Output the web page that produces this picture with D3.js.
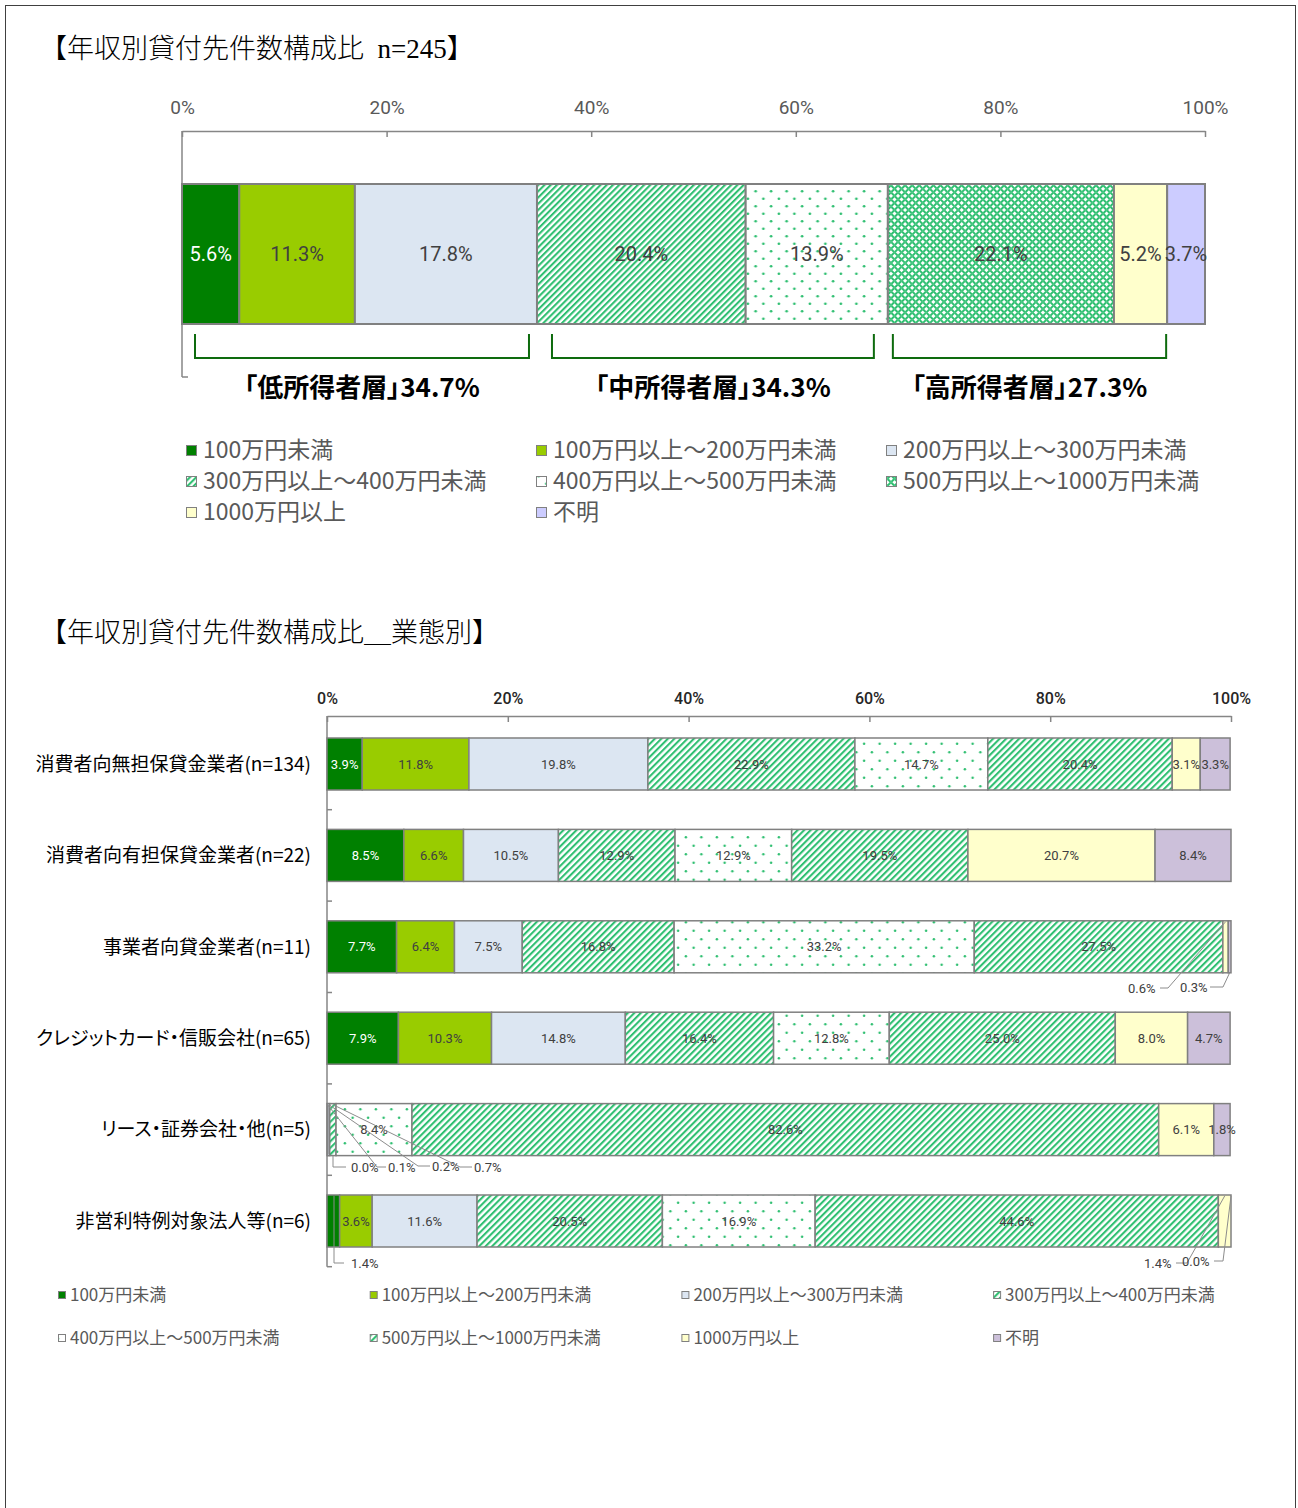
<!DOCTYPE html>
<html><head><meta charset="utf-8">
<script src="https://cdn.jsdelivr.net/npm/d3@7"></script>
<style>body{margin:0;background:#fff}svg{display:block}.palt{font-feature-settings:"palt"}</style>
</head><body><svg id="c" width="1298" height="1508"></svg>
<script>
// ---------------- DATA ----------------
const categories = ["100万円未満","100万円以上～200万円未満","200万円以上～300万円未満","300万円以上～400万円未満","400万円以上～500万円未満","500万円以上～1000万円未満","1000万円以上","不明"];
const overallValues = [5.6, 11.3, 17.8, 20.4, 13.9, 22.1, 5.2, 3.7];
const groupLabels = ["「低所得者層」34.7%","「中所得者層」34.3%","「高所得者層」27.3%"];
const groupRanges = [[0,2],[3,4],[5,6]];
const businessTypes = ["消費者向無担保貸金業者(n=134)","消費者向有担保貸金業者(n=22)","事業者向貸金業者(n=11)","クレジットカード・信販会社(n=65)","リース・証券会社・他(n=5)","非営利特例対象法人等(n=6)"];
const rowUnsecured   = [3.9, 11.8, 19.8, 22.9, 14.7, 20.4, 3.1, 3.3];
const rowSecured     = [8.5, 6.6, 10.5, 12.9, 12.9, 19.5, 20.7, 8.4];
const rowBusiness    = [7.7, 6.4, 7.5, 16.8, 33.2, 27.5, 0.6, 0.3];
const rowCredit      = [7.9, 10.3, 14.8, 16.4, 12.8, 25.0, 8.0, 4.7];
const rowLease       = [0.0, 0.1, 0.2, 0.7, 8.4, 82.6, 6.1, 1.8];
const rowNonProfit   = [1.4, 3.6, 11.6, 20.5, 16.9, 44.6, 1.4, 0.0];
const byTypeValues = [rowUnsecured, rowSecured, rowBusiness, rowCredit, rowLease, rowNonProfit];
const tickValues = [0, 20, 40, 60, 80, 100];
const topTitle = "【年収別貸付先件数構成比  n=245】";
const bottomTitle = "【年収別貸付先件数構成比＿業態別】";

// ---------------- STYLE / LAYOUT ----------------
const PG = "#2FBF71";
const topFills = ["#008000","#99CC00","#DCE6F2","url(#stripeT)","url(#dotT)","url(#crossT)","#FFFFCC","#CCCCFF"];
const botFills = ["#008000","#99CC00","#DCE6F2","url(#stripeB)","url(#dotB)","url(#stripeB)","#FFFFCC","#CCC0DA"];
const NUM = "Roboto, 'Liberation Sans', sans-serif";
const JP = "'Noto Sans CJK JP', 'Noto Sans', sans-serif";
const bracketInsets = [[13,8],[15,14],[5,1]];
const leaderLayout = [
  {row:2, s:6, tx:1128, ty:988, anchor:"start", hx:1160, ex:1168, edge:"top"},
  {row:2, s:7, tx:1180, ty:987, anchor:"start", hx:1210, ex:1223, edge:"bottom"},
  {row:4, s:0, tx:351, ty:1167, anchor:"start", hx:346, ex:333, edge:"bottom", vertical:true},
  {row:4, s:1, tx:388, ty:1167, anchor:"start", hx:386, ex:377, edge:"top"},
  {row:4, s:2, tx:432, ty:1166, anchor:"start", hx:430, ex:418, edge:"top"},
  {row:4, s:3, tx:474, ty:1167, anchor:"start", hx:472, ex:460, edge:"top"},
  {row:5, s:0, tx:351, ty:1263, anchor:"start", hx:344, ex:334, edge:"top", vertical:true},
  {row:5, s:6, tx:1144, ty:1263, anchor:"start", hx:1176, ex:1187, edge:"top"},
  {row:5, s:7, tx:1182, ty:1261, anchor:"start", hx:1214, ex:1223, edge:"top"}
];

const svg = d3.select("#c");
svg.append("rect").attr("x",5.5).attr("y",5.5).attr("width",1290).attr("height",1530)
  .attr("fill","none").attr("stroke","#404040").attr("stroke-width",1);

// ---------------- PATTERNS ----------------
const defs = svg.append("defs");
function stripe(id, size, lw){
  const p = defs.append("pattern").attr("id",id).attr("patternUnits","userSpaceOnUse")
    .attr("width",size).attr("height",size).attr("patternTransform","rotate(45)");
  p.append("rect").attr("width",size).attr("height",size).attr("fill","#fff");
  p.append("rect").attr("width",lw).attr("height",size).attr("fill",PG);
}
function dots(id, w, h, r){
  const p = defs.append("pattern").attr("id",id).attr("patternUnits","userSpaceOnUse")
    .attr("width",w).attr("height",h);
  p.append("rect").attr("width",w).attr("height",h).attr("fill","#fff");
  p.append("circle").attr("cx",w*0.25).attr("cy",h*0.25).attr("r",r).attr("fill",PG);
  p.append("circle").attr("cx",w*0.75).attr("cy",h*0.75).attr("r",r).attr("fill",PG);
}
stripe("stripeT", 4.4, 2.1);
stripe("stripeB", 4.6, 2.1);
dots("dotT", 15.5, 15, 1.35);
dots("dotB", 15.5, 17, 1.25);
(function(){
  const s = 5;
  const p = defs.append("pattern").attr("id","crossT").attr("patternUnits","userSpaceOnUse")
    .attr("width",s).attr("height",s).attr("patternTransform","rotate(45)");
  p.append("rect").attr("width",s).attr("height",s).attr("fill","#fff");
  p.append("rect").attr("width",s).attr("height",2).attr("fill",PG);
  p.append("rect").attr("width",2).attr("height",s).attr("fill",PG);
  p.append("rect").attr("x",0.6).attr("y",0.6).attr("width",0.8).attr("height",0.8).attr("fill","#fff");
})();

const stackGen = d3.stack().keys(d3.range(categories.length)).value((d,k)=>d[k]);
const fmt = v => v.toFixed(1) + "%";
const TITLE_FONT = "'Liberation Serif', 'Noto Sans CJK JP', serif";

// ---------------- TOP CHART ----------------
svg.append("text").attr("x",40).attr("y",58).text(topTitle)
  .attr("font-family",TITLE_FONT).attr("font-weight",300)
  .attr("font-size",27).attr("fill","#000").style("white-space","pre");

const x1 = d3.scaleLinear().domain([0,100]).range([182,1205]);
const axTop = svg.append("g").attr("transform","translate(0,131)")
  .call(d3.axisTop(x1).tickValues(tickValues).tickFormat(d=>d+"%").tickSize(-6).tickSizeOuter(0).tickPadding(17));
axTop.select(".domain").attr("stroke","#868686").attr("stroke-width",1.5);
axTop.selectAll(".tick line").attr("stroke","#868686").attr("stroke-width",1.5);
axTop.selectAll(".tick text").attr("font-family",NUM).attr("font-size",19).attr("fill","#595959");
svg.append("line").attr("x1",182).attr("x2",182).attr("y1",131).attr("y2",377).attr("stroke","#868686").attr("stroke-width",1.5);
svg.append("line").attr("x1",182).attr("x2",188).attr("y1",377).attr("y2",377).attr("stroke","#868686").attr("stroke-width",1.5);

const topStack = stackGen([overallValues]);
const barTopY = 184, barTopH = 140;
const gTop = svg.append("g");
gTop.selectAll("rect").data(topStack).join("rect")
  .attr("x", d=>x1(d[0][0])).attr("width", d=>x1(d[0][1])-x1(d[0][0]))
  .attr("y", barTopY).attr("height", barTopH)
  .attr("fill", (d,i)=>topFills[i]).attr("stroke","#808080").attr("stroke-width",2);
gTop.selectAll("text").data(topStack).join("text")
  .attr("x", d=>(x1(d[0][0])+x1(d[0][1]))/2).attr("y", barTopY+barTopH/2+7)
  .attr("text-anchor","middle").attr("font-family",NUM).attr("font-size",20)
  .attr("fill",(d,i)=> i===0 ? "#fff" : "#404040")
  .text((d,i)=>fmt(overallValues[i]));

// brackets
const gBr = svg.append("g");
groupRanges.forEach((r,i)=>{
  const xa = x1(topStack[r[0]][0][0]) + bracketInsets[i][0];
  const xb = x1(topStack[r[1]][0][1]) - bracketInsets[i][1];
  gBr.append("path").attr("d",`M${xa},334V358H${xb}V334`).attr("fill","none")
    .attr("stroke","#0E6B0E").attr("stroke-width",2);
  gBr.append("text").attr("class","palt").attr("x",(xa+xb)/2).attr("y",397).attr("text-anchor","middle")
    .attr("font-family",JP).attr("font-weight",700).attr("font-size",26).attr("fill","#000")
    .text(groupLabels[i]);
});

// top legend
const gLegT = svg.append("g");
categories.forEach((c,i)=>{
  const col = i%3, row = Math.floor(i/3);
  const x = 186 + col*350, y = 450 + row*31;
  gLegT.append("rect").attr("x",x+0.5).attr("y",y-4.5).attr("width",10).attr("height",10)
    .attr("fill",topFills[i]).attr("stroke","#808080").attr("stroke-width",1);
  gLegT.append("text").attr("x",x+17).attr("y",y+8.3).attr("font-family",JP).attr("font-size",23)
    .attr("fill","#595959").text(c);
});

// ---------------- BOTTOM CHART ----------------
svg.append("text").attr("x",40).attr("y",642).text(bottomTitle)
  .attr("font-family",TITLE_FONT).attr("font-weight",300)
  .attr("font-size",27).attr("fill","#000");

const x2 = d3.scaleLinear().domain([0,100]).range([327,1231]);
const pad = 0.431;
const y2 = d3.scaleBand().domain(businessTypes).range([718.3,1266.7]).paddingInner(pad).paddingOuter(pad/2);
const axBot = svg.append("g").attr("transform","translate(0,716)")
  .call(d3.axisTop(x2).tickValues(tickValues).tickFormat(d=>d+"%").tickSize(-6).tickSizeOuter(0).tickPadding(12));
axBot.select(".domain").attr("stroke","#868686").attr("stroke-width",1.5);
axBot.selectAll(".tick line").attr("stroke","#868686").attr("stroke-width",1.5);
axBot.selectAll(".tick text").attr("font-family",NUM).attr("font-size",16).attr("font-weight",500).attr("fill","#262626");
svg.append("line").attr("x1",327).attr("x2",327).attr("y1",716).attr("y2",1266.7).attr("stroke","#868686").attr("stroke-width",1.5);
const step = y2.step();
d3.range(1, businessTypes.length+1).forEach(i=>{
  const yy = y2.range()[0] + i*step;
  svg.append("line").attr("x1",327).attr("x2",332).attr("y1",yy).attr("y2",yy).attr("stroke","#868686").attr("stroke-width",1.5);
});

// category labels
svg.append("g").selectAll("text").data(businessTypes).join("text")
  .attr("class","palt")
  .attr("x",311).attr("y",d=>y2(d)+y2.bandwidth()/2+6.8).attr("text-anchor","end")
  .attr("font-family",JP).attr("font-size",19).attr("fill","#000").text(d=>d);

const botStack = stackGen(byTypeValues);
const leaderSet = new Set(leaderLayout.map(l=>l.row+"-"+l.s));
const gBot = svg.append("g");
botStack.forEach((ser,k)=>{
  gBot.append("g").selectAll("rect").data(ser).join("rect")
    .attr("x",d=>x2(d[0])).attr("width",d=>Math.max(0,x2(d[1])-x2(d[0])))
    .attr("y",(d,r)=>y2(businessTypes[r])).attr("height",y2.bandwidth())
    .attr("fill",botFills[k]).attr("stroke","#808080").attr("stroke-width",1.5);
});
botStack.forEach((ser,k)=>{
  gBot.append("g").selectAll("text").data(ser.map((d,r)=>({d,r})).filter(o=>!leaderSet.has(o.r+"-"+k))).join("text")
    .attr("x",o=>(x2(o.d[0])+x2(o.d[1]))/2).attr("y",o=>y2(businessTypes[o.r])+y2.bandwidth()/2+4.6)
    .attr("text-anchor","middle").attr("font-family",NUM).attr("font-size",13)
    .attr("fill",k===0?"#fff":"#404040").text(o=>fmt(byTypeValues[o.r][k]));
});

// leader labels
const gLead = svg.append("g");
leaderLayout.forEach(l=>{
  const seg = botStack[l.s][l.row];
  const segMid = (x2(seg[0])+x2(seg[1]))/2;
  const top = y2(businessTypes[l.row]);
  const ty = l.edge==="top" ? top+1 : top+y2.bandwidth();
  const tx = l.vertical ? l.ex : segMid;
  gLead.append("polyline").attr("points",[[l.hx,l.ty],[l.ex,l.ty],[tx,ty]].map(p=>p.join(",")).join(" "))
    .attr("fill","none").attr("stroke","#8C8C8C").attr("stroke-width",1);
  gLead.append("text").attr("x",l.tx).attr("y",l.ty+4.6).attr("text-anchor",l.anchor)
    .attr("font-family",NUM).attr("font-size",13).attr("fill","#404040")
    .text(fmt(byTypeValues[l.row][l.s]));
});

// bottom legend
const gLegB = svg.append("g");
categories.forEach((c,i)=>{
  const col = i%4, row = Math.floor(i/4);
  const x = 58 + col*311.7, y = 1295 + row*43;
  gLegB.append("rect").attr("x",x+0.5).attr("y",y-3.5).attr("width",7).attr("height",7)
    .attr("fill",botFills[i]).attr("stroke","#808080").attr("stroke-width",1);
  gLegB.append("text").attr("x",x+12).attr("y",y+6).attr("font-family",JP).attr("font-size",17)
    .attr("fill","#595959").text(c);
});
</script></body></html>
